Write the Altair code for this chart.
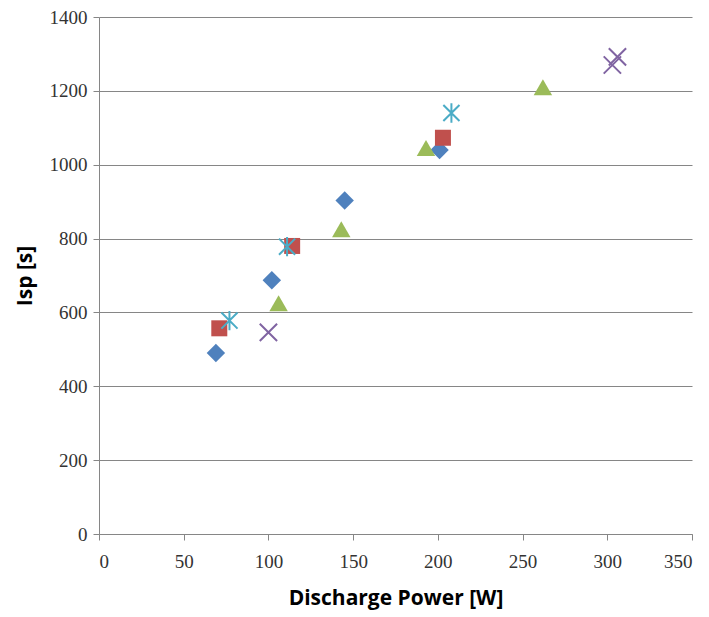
import altair as alt
import pandas as pd

series = ["S1", "S2", "S3", "S4", "S5"]
s1_x = [69, 102, 145, 201]
s1_y = [490, 687, 903, 1040]
s2_x = [71, 114, 203]
s2_y = [557, 780, 1073]
s3_x = [106, 143, 193, 262]
s3_y = [625, 825, 1045, 1210]
s4_x = [77, 111, 208]
s4_y = [578, 778, 1140]
s5_x = [100, 303, 306]
s5_y = [546, 1270, 1292]

def frame(name, xs, ys):
    return pd.DataFrame({"power": xs, "isp": ys, "series": name})

df1 = frame("S1", s1_x, s1_y)
df2 = frame("S2", s2_x, s2_y)
df3 = frame("S3", s3_x, s3_y)
df4 = frame("S4", s4_x, s4_y)
df5 = frame("S5", s5_x, s5_y)

xs = alt.X("power:Q", scale=alt.Scale(domain=[0, 350], nice=False),
           axis=alt.Axis(values=[0, 50, 100, 150, 200, 250, 300, 350], grid=False,
                         format="d", title="Discharge Power [W]"))
ys = alt.Y("isp:Q", scale=alt.Scale(domain=[0, 1400], nice=False),
           axis=alt.Axis(values=[0, 200, 400, 600, 800, 1000, 1200, 1400], grid=True,
                         format="d", title="Isp [s]"))

def pts(df, shape, color, size, filled=True, sw=0):
    kw = dict(shape=shape, size=size, opacity=1)
    if filled:
        kw.update(filled=True, fill=color, strokeWidth=0)
    else:
        kw.update(filled=False, stroke=color, strokeWidth=sw)
    return alt.Chart(df).mark_point(**kw).encode(x=xs, y=ys)

asterisk = "M-1,-1L1,1M1,-1L-1,1M0,-1.2L0,1.2"
xmark = "M-1,-1L1,1M1,-1L-1,1"

chart = alt.layer(
    pts(df1, "diamond", "#4F81BD", 340),
    pts(df2, "square", "#C0504D", 256),
    pts(df3, "triangle-up", "#9BBB59", 340),
    pts(df4, asterisk, "#4BACC6", 260, filled=False, sw=2),
    pts(df5, xmark, "#8064A2", 300, filled=False, sw=2),
).properties(
    width=593, height=517,
    autosize=alt.AutoSizeParams(type="none"),
    padding={"left": 99, "top": 17, "right": 17, "bottom": 83},
).configure_view(stroke=None).configure_axis(
    domainColor="#868686", tickColor="#868686", gridColor="#868686",
    labelFont="Liberation Sans Narrow", labelFontSize=19, labelColor="#333333",
    titleFont="Open Sans", titleFontSize=21, titleFontWeight="bold", titleColor="#000000",
    tickSize=6, domainWidth=1, gridWidth=1,
).configure_axisX(labelPadding=12, titlePadding=16).configure_axisY(labelPadding=6, titlePadding=14)

chart.save("out.html", embed_options={"renderer": "svg", "actions": False})
